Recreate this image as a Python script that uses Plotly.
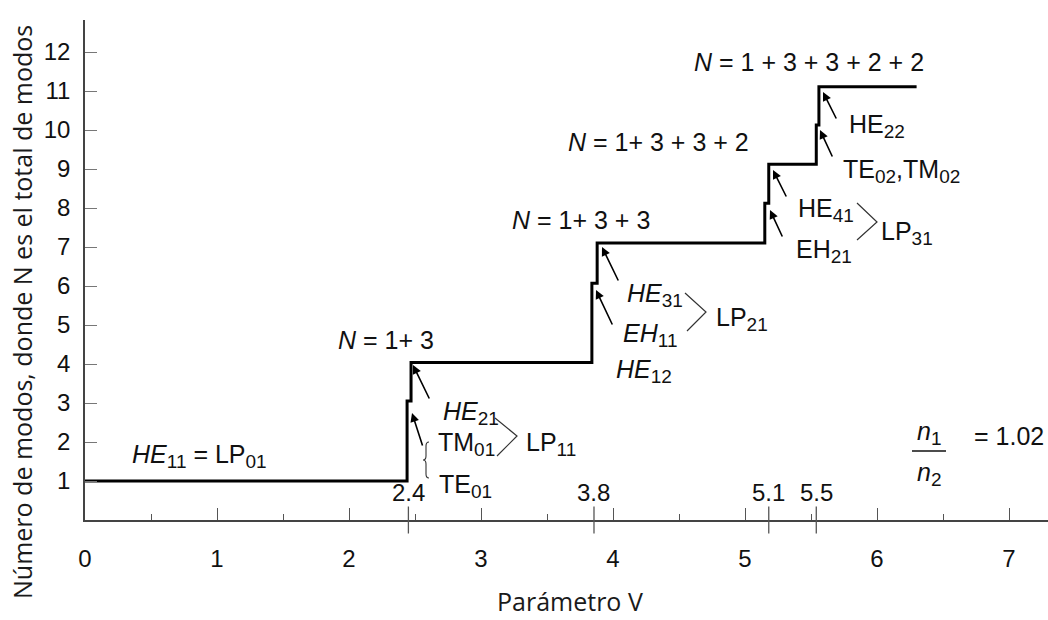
import plotly.graph_objects as go

# ---- data ----
cutoff_V = [0.0, 2.44, 2.47, 3.84, 3.88, 5.15, 5.18, 5.54, 5.56, 6.30]
modes_N = [1.0, 3.05, 4.04, 6.07, 7.1, 8.12, 9.12, 10.13, 11.11, 11.11]
x_ticks = [0, 1, 2, 3, 4, 5, 6, 7]
y_ticks = list(range(1, 13))
special_V = [2.45, 3.856, 5.18, 5.54]
special_labels = ["2.4", "3.8", "5.1", "5.5"]

# pixel helpers (plot area: V=0 at x=85px, 132 px/unit; N=0 at y=520px, 39 px/unit)
def X(px):
    return (px - 85) / 132.0

def Y(py):
    return (520 - py) / 39.0

def PX(px):
    return (px - 85) / 963.0

def PY(py):
    return (520 - py) / 500.0

FONT = "Liberation Sans, Arial, Helvetica, sans-serif"
TSIZE = 25
TICKSIZE = 24

def s(t):
    return '<sub><span style="font-size:19px">' + t + '</span></sub>'

fig = go.Figure()
fig.add_trace(go.Scatter(
    x=cutoff_V, y=modes_N, mode="lines", line_shape="hv",
    line=dict(color="black", width=3), hoverinfo="skip", showlegend=False))

annotations = []
shapes = []

def txt(text, left, cy, size=TSIZE):
    annotations.append(dict(x=X(left), y=Y(cy), xref="x", yref="y", text=text,
                            showarrow=False, xanchor="left", yanchor="middle",
                            font=dict(family=FONT, size=size, color="#111")))

def arrow(tx, ty, hx, hy):
    annotations.append(dict(x=X(hx), y=Y(hy), ax=X(tx), ay=Y(ty), xref="x", yref="y",
                            axref="x", ayref="y", text="", showarrow=True,
                            arrowhead=2, arrowsize=1.1, arrowwidth=1.6,
                            arrowcolor="black", standoff=0, startstandoff=0))

def chevron(p1, p2, p3):
    path = "M {},{} L {},{} L {},{}".format(X(p1[0]), Y(p1[1]), X(p2[0]), Y(p2[1]), X(p3[0]), Y(p3[1]))
    shapes.append(dict(type="path", xref="x", yref="y", path=path,
                       line=dict(color="#333", width=1.2)))

# texts
txt("<i>HE</i>" + s("11") + " = LP" + s("01"), 130, 456)
txt("<i>N</i> = 1+ 3", 336, 340)
txt("<i>N</i> = 1+ 3 + 3", 510, 220)
txt("<i>N</i> = 1+ 3 + 3 + 2", 566, 142)
txt("<i>N</i> = 1 + 3 + 3 + 2 + 2", 692, 62)
txt("<i>HE</i>" + s("21"), 441, 413)
txt("TM" + s("01"), 436, 444)
txt("TE" + s("01"), 437, 486)
txt("LP" + s("11"), 524, 444)
txt("<i>HE</i>" + s("31"), 625, 295)
txt("<i>EH</i>" + s("11"), 621, 335)
txt("LP" + s("21"), 714, 319)
txt("<i>HE</i>" + s("12"), 614, 371)
txt("HE" + s("22"), 847, 126)
txt("TE" + s("02") + ",TM" + s("02"), 841, 171)
txt("HE" + s("41"), 796, 210)
txt("EH" + s("21"), 794, 251)
txt("LP" + s("31"), 879, 233)
txt("<i>n</i>" + s("1"), 915, 433)
txt("<i>n</i>" + s("2"), 915, 474)
txt("= 1.02", 972, 436)

# arrows
arrow(430, 400, 413, 365)
arrow(423, 447, 412, 413)
arrow(619, 282, 602, 247)
arrow(613, 326, 596, 290)
arrow(837, 120, 823, 92)
arrow(833, 158, 820, 130)
arrow(787, 198, 773, 170)
arrow(783, 238, 770, 210)

# chevrons
chevron((495, 418), (517, 436), (497, 456))
chevron((685, 293), (706, 312), (687, 331))
chevron((857, 203), (877, 222), (857, 240))

# brace
bx = 426
brace = ("M {a},{y0} Q {b},{y0} {b},{y1} L {b},{y2} Q {b},{ym} {c},{ym} "
         "Q {b},{ym} {b},{y3} L {b},{y4} Q {b},{y5} {a},{y5}").format(
    a=X(bx + 3), b=X(bx), c=X(bx - 3),
    y0=Y(442), y1=Y(446), y2=Y(456), ym=Y(460), y3=Y(464), y4=Y(474), y5=Y(478))
shapes.append(dict(type="path", xref="x", yref="y", path=brace,
                   line=dict(color="#333", width=1.1)))

# fraction bar
shapes.append(dict(type="line", xref="x", yref="y", x0=X(912), x1=X(946), y0=Y(451), y1=Y(451),
                   line=dict(color="#111", width=1.3)))

# special ticks crossing the axis and their labels
for v, lab in zip(special_V, special_labels):
    shapes.append(dict(type="line", xref="x", yref="paper", x0=v, x1=v,
                       y0=-13.5 / 500, y1=13.5 / 500, line=dict(color="#555", width=1.3)))
    annotations.append(dict(x=v, y=Y(492), xref="x", yref="y", text=lab, showarrow=False,
                            xanchor="center", yanchor="middle",
                            font=dict(family=FONT, size=TICKSIZE, color="#111")))

# axis titles
annotations.append(dict(x=PX(570), y=PY(620), xref="paper", yref="paper",
                        text="Parámetro V", showarrow=False, xanchor="center", yanchor="bottom",
                        font=dict(family="Open Sans", size=25, color="#1a1a1a")))
annotations.append(dict(x=PX(22), y=PY(312), xref="paper", yref="paper",
                        text="Número de modos, donde N es el total de modos", showarrow=False,
                        textangle=-90, xanchor="center", yanchor="middle",
                        font=dict(family="Open Sans", size=25, color="#1a1a1a")))

fig.update_layout(
    width=1048, height=620,
    margin=dict(l=85, r=0, t=20, b=100),
    paper_bgcolor="white", plot_bgcolor="white",
    showlegend=False,
    annotations=annotations, shapes=shapes,
    xaxis=dict(range=[0, 963 / 132.0], tickvals=x_ticks, ticktext=[str(v) for v in x_ticks],
               ticks="inside", ticklen=12, tickwidth=1.3, tickcolor="#555",
               minor=dict(dtick=0.5, tick0=0, ticks="inside", ticklen=6, tickwidth=1.2, tickcolor="#555"),
               showline=True, linecolor="#444", linewidth=1.6, showgrid=False, zeroline=False,
               ticklabelstandoff=16,
               tickfont=dict(family=FONT, size=TICKSIZE, color="#111")),
    yaxis=dict(range=[0, 500 / 39.0], tickvals=y_ticks,
               ticks="inside", ticklen=12, tickwidth=1.3, tickcolor="#777",
               showline=True, linecolor="#444", linewidth=1.6, showgrid=False, zeroline=False,
               ticklabelstandoff=8,
               tickfont=dict(family=FONT, size=TICKSIZE, color="#111")),
)

fig.write_html("out.html")
